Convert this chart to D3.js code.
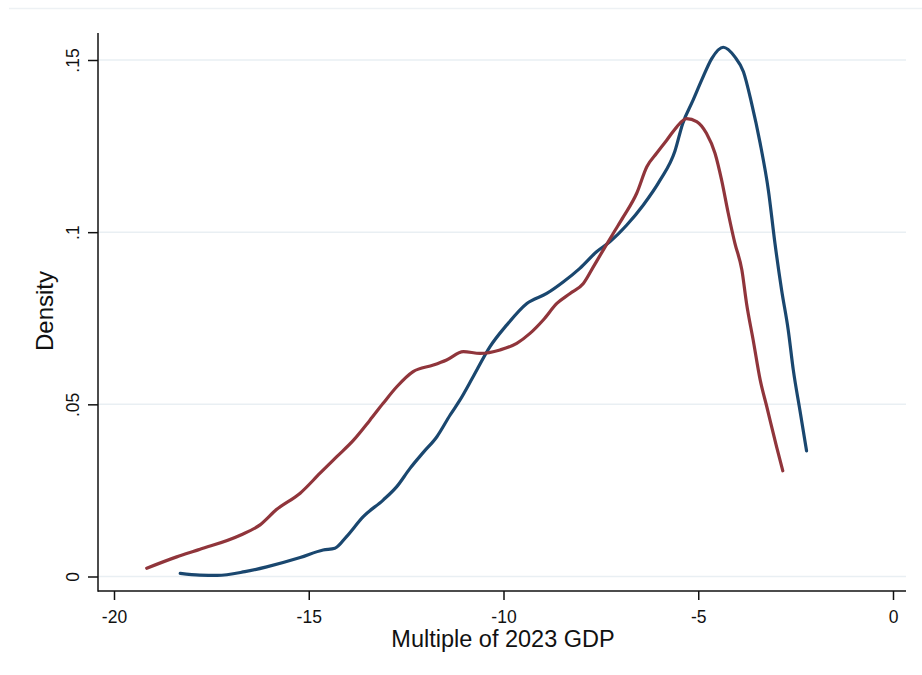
<!DOCTYPE html>
<html>
<head>
<meta charset="utf-8">
<script src="https://cdn.jsdelivr.net/npm/d3@7"></script>
<style>
  html, body { margin: 0; padding: 0; background: #fff; }
  svg { display: block; font-family: "Liberation Sans", Arial, sans-serif; }
</style>
</head>
<body>
<svg id="chart" width="922" height="675"></svg>
<script>
// ---- data ----
const xTicks = [-20, -15, -10, -5, 0];
const xTickLabels = ["-20", "-15", "-10", "-5", "0"];
const yTicks = [0, 0.05, 0.1, 0.15];
const yTickLabels = ["0", ".05", ".1", ".15"];
const xTitle = "Multiple of 2023 GDP";
const yTitle = "Density";

const blueX = [-18.3, -17.8, -17.35, -16.64, -16.08, -15.22, -14.63, -14.33, -14.03, -13.6, -13.09, -12.74, -12.4, -12.07, -11.71, -11.37, -11.12, -10.78, -10.35, -9.92, -9.4, -8.89, -8.46, -8.04, -7.61, -7.27, -6.84, -6.41, -5.98, -5.6, -5.4, -5.13, -4.91, -4.65, -4.36, -4.06, -3.84, -3.63, -3.41, -3.2, -3.03, -2.86, -2.69, -2.56, -2.39, -2.22];
const blueY = [0.0009, 0.0004, 0.0003, 0.0014, 0.0028, 0.0055, 0.0077, 0.0082, 0.0116, 0.0174, 0.0222, 0.0261, 0.0314, 0.0359, 0.0406, 0.0469, 0.0512, 0.058, 0.0667, 0.073, 0.0793, 0.0822, 0.0856, 0.0895, 0.0943, 0.0972, 0.102, 0.1079, 0.1151, 0.1235, 0.1315, 0.1384, 0.1442, 0.1505, 0.1537, 0.1509, 0.1466, 0.1374, 0.1258, 0.1122, 0.0967, 0.0832, 0.0716, 0.06, 0.0483, 0.0365];

const redX = [-19.16, -18.39, -17.79, -16.76, -16.25, -15.82, -15.22, -14.71, -14.28, -13.85, -13.43, -13.09, -12.74, -12.32, -11.8, -11.46, -11.03, -10.6, -10.09, -9.66, -9.32, -8.98, -8.63, -8.29, -7.95, -7.69, -7.44, -7.18, -6.92, -6.58, -6.32, -6.07, -5.81, -5.55, -5.3, -5.04, -4.79, -4.57, -4.4, -4.23, -4.06, -3.88, -3.76, -3.59, -3.41, -3.24, -2.99, -2.83];
const redY = [0.0024, 0.0057, 0.0079, 0.012, 0.015, 0.0195, 0.0242, 0.03, 0.0348, 0.0396, 0.0454, 0.0503, 0.0551, 0.0595, 0.0614, 0.0629, 0.0653, 0.0648, 0.0658, 0.0677, 0.0706, 0.0745, 0.0793, 0.0822, 0.0851, 0.09, 0.0948, 0.0997, 0.1045, 0.1113, 0.119, 0.1229, 0.1267, 0.1306, 0.133, 0.1321, 0.1287, 0.1229, 0.1151, 0.1055, 0.0968, 0.089, 0.0793, 0.0687, 0.0571, 0.0493, 0.0377, 0.0307];

const seriesColors = ["#1a476f", "#90353b"];

// ---- layout ----
const svg = d3.select("#chart");
const x = d3.scaleLinear().domain([-20, 0]).range([114, 893]);
const y = d3.scaleLinear().domain([0, 0.15]).range([576.5, 60]);
const axisLeftX = 98, axisBottomY = 591, plotTop = 33, plotRight = 906;
const font = "'Liberation Sans', Arial, sans-serif";

// faint outer border line at top
svg.append("line").attr("x1", 9).attr("x2", 922).attr("y1", 8.5).attr("y2", 8.5)
  .attr("stroke", "#edf1f4").attr("stroke-width", 1.5);

// gridlines
svg.append("g").selectAll("line").data(yTicks).join("line")
  .attr("x1", axisLeftX).attr("x2", plotRight)
  .attr("y1", d => y(d)).attr("y2", d => y(d))
  .attr("stroke", "#e9eff3").attr("stroke-width", 1.5);

// axes
const gx = svg.append("g").attr("transform", `translate(0,${axisBottomY})`)
  .call(d3.axisBottom(x).tickValues(xTicks).tickFormat((d, i) => xTickLabels[i]).tickSize(9).tickPadding(0));
gx.select(".domain").remove();
gx.selectAll(".tick line").attr("stroke", "#111").attr("stroke-width", 1.5);
gx.selectAll(".tick text").attr("y", 31.5).attr("dy", null).attr("fill", "#111")
  .style("font-size", "17.5px").style("font-family", font);

const gy = svg.append("g").attr("transform", `translate(${axisLeftX},0)`)
  .call(d3.axisLeft(y).tickValues(yTicks).tickFormat((d, i) => yTickLabels[i]).tickSize(10).tickPadding(0));
gy.select(".domain").remove();
gy.selectAll(".tick line").attr("stroke", "#111").attr("stroke-width", 1.5);
gy.selectAll(".tick text")
  .attr("x", null).attr("dy", null)
  .attr("text-anchor", "middle")
  .attr("transform", "translate(-19,0) rotate(-90)")
  .attr("fill", "#111")
  .style("font-size", "17.5px").style("font-family", font);

svg.append("line").attr("x1", axisLeftX).attr("x2", axisLeftX).attr("y1", plotTop).attr("y2", axisBottomY + 0.75)
  .attr("stroke", "#111").attr("stroke-width", 1.5);
svg.append("line").attr("x1", axisLeftX).attr("x2", plotRight).attr("y1", axisBottomY).attr("y2", axisBottomY)
  .attr("stroke", "#111").attr("stroke-width", 1.5);

// series
const line = d3.line().x(d => x(d[0])).y(d => y(d[1])).curve(d3.curveMonotoneX);
const series = [d3.zip(blueX, blueY), d3.zip(redX, redY)];
svg.append("g").selectAll("path").data(series).join("path")
  .attr("d", line)
  .attr("fill", "none")
  .attr("stroke", (d, i) => seriesColors[i])
  .attr("stroke-width", 3.2)
  .attr("stroke-linejoin", "round")
  .attr("stroke-linecap", "round");

// titles
svg.append("text").attr("x", 503).attr("y", 647)
  .attr("text-anchor", "middle").attr("fill", "#111")
  .style("font-size", "23.5px").text(xTitle);
svg.append("text").attr("transform", `translate(53,311) rotate(-90)`)
  .attr("text-anchor", "middle").attr("fill", "#111")
  .style("font-size", "24px").text(yTitle);
</script>
</body>
</html>
